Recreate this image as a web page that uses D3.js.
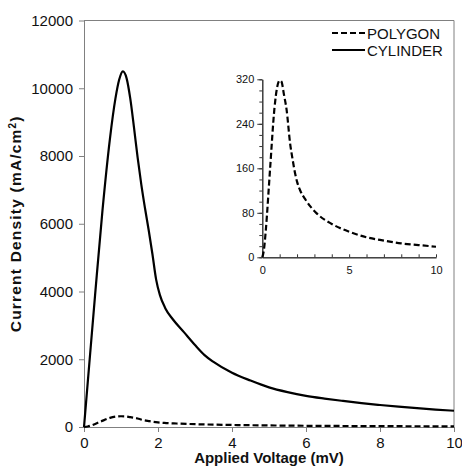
<!DOCTYPE html>
<html><head><meta charset="utf-8">
<script src="https://cdn.jsdelivr.net/npm/d3@7"></script>
<style>
html,body{margin:0;padding:0;background:#fff;}
svg{display:block;font-family:"Liberation Sans",Arial,sans-serif;}
</style></head><body>
<svg id="c" width="462" height="474"></svg>
<script>
// ---- data ----
const cylX = [0,0.1,0.3,0.5,0.7,0.85,0.95,1.05,1.15,1.25,1.35,1.45,1.55,1.65,1.75,1.85,1.95,2.05,2.2,2.4,2.7,3.0,3.25,3.5,4.0,4.5,5.0,5.5,6.0,6.5,7.0,7.5,8.0,8.5,9.0,9.5,10];
const cylY = [0,1300,3900,6400,8500,9700,10250,10500,10300,9700,8850,7950,7150,6450,5800,5100,4350,3900,3500,3180,2800,2420,2130,1920,1600,1370,1170,1030,920,840,770,705,650,600,555,515,480];
const polX = [0,0.1,0.2,0.45,0.7,0.85,1.0,1.1,1.25,1.4,1.6,1.75,1.88,2.0,2.17,2.5,3.13,4.0,5.0,6.0,7.0,8.0,9.0,10];
const polY = [0,15,48,160,268,305,318,316,292,265,205,175,152,136,121,103,79,60,46,36,30,25,22,19];
const xTicks = [0,2,4,6,8,10];
const yTicks = [0,2000,4000,6000,8000,10000,12000];
const insetXTicks = [0,5,10];
const insetYTicks = [0,80,160,240,320];
const seriesNames = ["POLYGON","CYLINDER"];

const svg = d3.select("#c");
const axisColor = "#808080";
const textColor = "#111";

// main scales
const x = d3.scaleLinear().domain([0,10]).range([84,454]);
const y = d3.scaleLinear().domain([0,12000]).range([427,20.5]);

// frame top/right
svg.append("line").attr("x1",84).attr("x2",454).attr("y1",y(12000)).attr("y2",y(12000)).attr("stroke",axisColor).attr("stroke-width",1);
svg.append("line").attr("x1",454).attr("x2",454).attr("y1",y(12000)).attr("y2",y(0)).attr("stroke",axisColor).attr("stroke-width",1);

const xAxis = svg.append("g").attr("transform",`translate(0,${y(0)})`)
  .call(d3.axisBottom(x).tickValues(xTicks).tickFormat(d3.format("d")).tickSizeInner(5).tickSizeOuter(0).tickPadding(5));
const yAxis = svg.append("g").attr("transform",`translate(${x(0)},0)`)
  .call(d3.axisLeft(y).tickValues(yTicks).tickFormat(d3.format("d")).tickSizeInner(5).tickSizeOuter(0).tickPadding(6));
[xAxis,yAxis].forEach(g=>{
  g.selectAll("path,line").attr("stroke",axisColor);
  g.selectAll("text").attr("fill",textColor).style("font-size","15px");
});

const line = d3.line().x(d=>x(d[0])).y(d=>y(d[1])).curve(d3.curveMonotoneX);
svg.append("path").datum(cylX.map((v,i)=>[v,cylY[i]])).attr("d",line)
  .attr("fill","none").attr("stroke","#000").attr("stroke-width",2.2);
svg.append("path").datum(polX.map((v,i)=>[v,polY[i]])).attr("d",line)
  .attr("fill","none").attr("stroke","#000").attr("stroke-width",2.2).attr("stroke-dasharray","6,3");

// axis titles
svg.append("text").attr("x",(x(0)+x(10))/2).attr("y",463).attr("text-anchor","middle")
  .attr("font-weight","bold").style("font-size","15px").attr("fill",textColor).text("Applied Voltage (mV)");
const yt = svg.append("text").attr("transform",`translate(21,${(y(0)+y(12000))/2}) rotate(-90)`)
  .attr("text-anchor","middle").attr("font-weight","bold").style("font-size","15.5px")
  .style("letter-spacing","1.2px").attr("fill",textColor);
yt.append("tspan").text("Current Density (mA/cm");
yt.append("tspan").attr("baseline-shift","super").style("font-size","10px").text("2");
yt.append("tspan").text(")");

// legend
const leg = svg.append("g");
seriesNames.forEach((n,i)=>{
  const ly = 33 + i*17;
  leg.append("line").attr("x1",332).attr("x2",365).attr("y1",ly).attr("y2",ly)
    .attr("stroke","#000").attr("stroke-width",2).attr("stroke-dasharray", i===0?"6,3":null);
  leg.append("text").attr("x",367).attr("y",ly+5.5).style("font-size","15px").attr("fill",textColor).text(n);
});

// inset
const ix = d3.scaleLinear().domain([0,10]).range([262.3,436]);
const iy = d3.scaleLinear().domain([0,320]).range([257.3,79.3]);
const ixAxis = svg.append("g").attr("transform",`translate(0,${iy(0)})`)
  .call(d3.axisBottom(ix).tickValues(insetXTicks).tickFormat(d3.format("d")).tickSize(0).tickPadding(9));
const ixMinor = svg.append("g").attr("transform",`translate(0,${iy(0)})`)
  .call(d3.axisBottom(ix).tickValues(d3.range(0,11,1)).tickFormat("").tickSizeInner(-3).tickSizeOuter(0));
const iyAxis = svg.append("g").attr("transform",`translate(${ix(0)},0)`)
  .call(d3.axisLeft(iy).tickValues(insetYTicks).tickFormat(d3.format("d")).tickSizeInner(5).tickSizeOuter(0).tickPadding(3));
const iyMinor = svg.append("g").attr("transform",`translate(${ix(0)},0)`)
  .call(d3.axisLeft(iy).tickValues(d3.range(0,321,20)).tickFormat("").tickSizeInner(3).tickSizeOuter(0));
[ixAxis,ixMinor,iyAxis,iyMinor].forEach(g=>{
  g.selectAll("path,line").attr("stroke","#333");
  g.selectAll("text").attr("fill",textColor).style("font-size","11px");
});
const iline = d3.line().x(d=>ix(d[0])).y(d=>iy(d[1])).curve(d3.curveMonotoneX);
svg.append("path").datum(polX.map((v,i)=>[v,polY[i]])).attr("d",iline)
  .attr("fill","none").attr("stroke","#000").attr("stroke-width",2.2).attr("stroke-dasharray","6,3");
</script>
</body></html>
